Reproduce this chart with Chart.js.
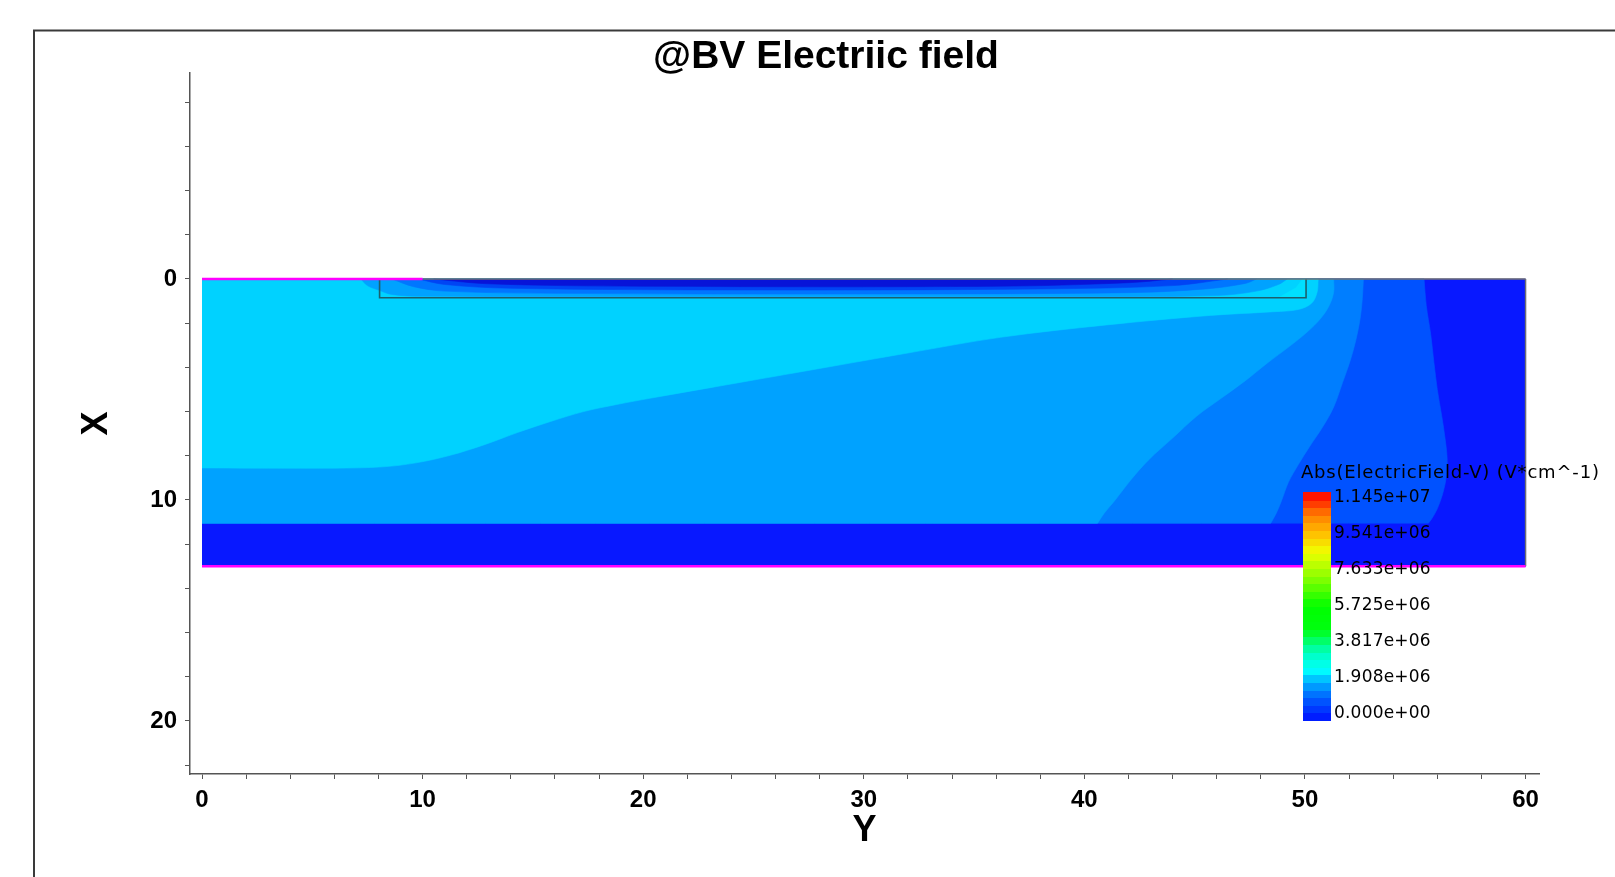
<!DOCTYPE html>
<html>
<head>
<meta charset="utf-8">
<script src="https://cdn.jsdelivr.net/npm/chart.js@4.4.1/dist/chart.umd.min.js"></script>
<style>
html,body{margin:0;padding:0;background:#fff;}
canvas{display:block;}
</style>
</head>
<body>
<canvas id="c" width="1615" height="877"></canvas>
<script>
// ---------------- data ----------------
const chartTitle = '@BV Electriic field';
const horizontalAxisTitle = 'Y';
const verticalAxisTitle = 'X';
const xTickValues = [0,2,4,6,8,10,12,14,16,18,20,22,24,26,28,30,32,34,36,38,40,42,44,46,48,50,52,54,56,58,60];
const xTickLabels = [0,10,20,30,40,50,60];
const yTickValues = [-8,-6,-4,-2,0,2,4,6,8,10,12,14,16,18,20,22];
const yTickLabels = [0,10,20];

const legendTitle = 'Abs(ElectricField-V) (V*cm^-1)';
const legendLabels = ['1.145e+07','9.541e+06','7.633e+06','5.725e+06','3.817e+06','1.908e+06','0.000e+00'];
const legendStopPos = [0, 0.10, 0.17, 0.22, 0.30, 0.40, 0.50, 0.62, 0.74, 0.82, 0.90, 0.96, 1];
const legendStopColor = ['#0010ff','#0060ff','#00b0ff','#00ffff','#00ffc0','#00ff10','#00ff00','#80ff00','#f0ff00','#ffc000','#ff8000','#ff3000','#ff0000'];
const legendBands = 30;

// device (Y along horizontal, X depth along vertical, microns)
const deviceBox = [[0,0],[60,0],[60,13],[0,13]];
const bandTop = 11.05;
// contour boundaries (top -> bottom)
const contourC = [[55.4,0],[55.5,1.2],[55.7,2.5],[55.85,3.8],[56.0,5.0],[56.2,6.2],[56.35,7.2],[56.45,8.2],[56.4,9.0],[56.25,9.7],[56.0,10.4],[55.75,10.85],[55.6,11.05]];
const contourB = [[52.65,0],[52.6,0.9],[52.5,1.8],[52.3,2.8],[52.05,3.7],[51.7,4.7],[51.3,5.8],[50.8,6.7],[50.2,7.6],[49.7,8.4],[49.25,9.2],[48.95,10.0],[48.7,10.6],[48.45,11.05]];
const contourA = [[51.3,0],[51.3,0.6],[51.1,1.2],[50.7,1.8],[50.1,2.4],[49.3,3.05],[48.3,3.8],[47.3,4.6],[46.2,5.4],[45.1,6.2],[44.0,7.2],[42.9,8.2],[42.1,9.1],[41.4,10.0],[40.9,10.6],[40.6,11.05]];
const contourCyan = [[50.6,0],[50.55,0.6],[50.3,1.1],[49.7,1.38],[48.6,1.48],[45.7,1.65],[41,2.08],[36.2,2.64],[32,3.35],[28,4.05],[24,4.75],[20.3,5.4],[18.8,5.68],[17.3,6.0],[15.8,6.45],[14.3,6.95],[12.8,7.5],[11.25,7.98],[9.7,8.32],[8.2,8.5],[6,8.56],[0,8.55]];
// thin surface layer bands
const layerBand1 = [[7.2,0],[7.5,0.3],[8.0,0.5],[8.6,0.7],[10,0.78],[20,0.8],[40,0.8],[46,0.75],[47.8,0.55],[48.8,0.25],[49.2,0]];
const layerBand2 = [[8.6,0],[9.6,0.35],[11,0.55],[16,0.65],[30,0.68],[42,0.62],[45.5,0.45],[47.3,0.2],[47.8,0]];
const layerBand3 = [[9.8,0],[11,0.25],[14,0.42],[25,0.5],[38,0.45],[44,0.3],[46.5,0]];
const layerBand4 = [[10.5,0],[13,0.22],[20,0.33],[36,0.33],[42,0.17],[44,0]];
const layerEnd = [[48.8,0.85],[49.6,0.4],[49.9,0],[50.05,0],[50.05,0.85]];
// outlines
const layerBox = [[8.05,0],[8.05,0.85],[50.05,0.85],[50.05,0]];
const topContact = [[0,0],[10,0]];
const bottomContact = [[0,13],[60,13]];
const topSurface = [[10,0],[60,0]];
const rightSurface = [[60,0],[60,13]];

const regionColors = {
  deep: '#0818ff', r4: '#0052ff', r3: '#007eff', r2: '#00a2ff', r1: '#00d2ff',
  l1: '#00a2ff', l2: '#0076ff', l3: '#0044f4', l4: '#0814d8', lEnd: '#00e0ff'
};

// ---------------- build ----------------
const toPts = arr => arr.map(([x, y]) => ({x, y}));
// a read corner is listed twice so the smoothed outline keeps it sharp
const corner = p => [p, p];
function withCorners(curve, startCorner, endCorner) {
  const first = curve[0], last = curve[curve.length - 1];
  return [...corner(startCorner), ...corner(first), ...curve.slice(1, -1), ...corner(last), ...(endCorner ? corner(endCorner) : [])];
}
function region(points, color, tension) {
  return {data: toPts(points), showLine: true, fill: 'shape', backgroundColor: color,
          borderColor: color, borderWidth: 0.6, pointRadius: 0, tension: tension};
}
function outline(points, color, w) {
  return {data: toPts(points), showLine: true, fill: false, borderColor: color,
          borderWidth: w, pointRadius: 0, tension: 0};
}
const T = 0.35;
const backToFront = [
  region(deviceBox, regionColors.deep, 0),
  region(withCorners(contourC, [0,0], [0,bandTop]), regionColors.r4, T),
  region(withCorners(contourB, [0,0], [0,bandTop]), regionColors.r3, T),
  region(withCorners(contourA, [0,0], [0,bandTop]), regionColors.r2, T),
  region(withCorners(contourCyan, [0,0], null), regionColors.r1, T),
  region(layerBand1, regionColors.l1, T),
  region(layerBand2, regionColors.l2, T),
  region(layerBand3, regionColors.l3, T),
  region(layerBand4, regionColors.l4, T),
  region(layerEnd, regionColors.lEnd, 0),
  outline(layerBox, '#1d5f6c', 1.6),
  outline(topSurface, '#707070', 1.6),
  outline(rightSurface, '#707070', 1.4),
  outline(topContact, '#ff00ff', 2.5),
  outline(bottomContact, '#ff00ff', 2.5)
];
backToFront.forEach((d, i) => { d.order = backToFront.length - i; });

function lerpColor(a, b, t) {
  const pa = [1,3,5].map(i => parseInt(a.substr(i,2),16));
  const pb = [1,3,5].map(i => parseInt(b.substr(i,2),16));
  const c = pa.map((v, k) => Math.round(v + (pb[k]-v)*t));
  return 'rgb(' + c.join(',') + ')';
}
function colorAt(f) {
  for (let i = 0; i < legendStopPos.length - 1; i++) {
    if (f <= legendStopPos[i+1]) {
      const t = (f - legendStopPos[i]) / (legendStopPos[i+1] - legendStopPos[i]);
      return lerpColor(legendStopColor[i], legendStopColor[i+1], t);
    }
  }
  return legendStopColor[legendStopColor.length-1];
}

const decorPlugin = {
  id: 'decor',
  beforeDraw(chart) {
    const ctx = chart.ctx;
    ctx.save();
    ctx.fillStyle = '#ffffff';
    ctx.fillRect(0, 0, chart.width, chart.height);
    ctx.strokeStyle = '#3a3a3a';
    ctx.lineWidth = 2;
    ctx.beginPath();
    ctx.moveTo(chart.width, 30.5);
    ctx.lineTo(34, 30.5);
    ctx.lineTo(34, chart.height);
    ctx.stroke();
    ctx.fillStyle = '#000';
    ctx.font = "bold 39px 'Liberation Sans', Arial, sans-serif";
    ctx.textAlign = 'center';
    ctx.textBaseline = 'middle';
    ctx.fillText(chartTitle, 826, 57);
    ctx.restore();
  },
  afterDraw(chart) {
    const ctx = chart.ctx;
    const bx = 1303, bw = 28, top = 492, bottom = 720;
    ctx.save();
    const h = (bottom - top) / legendBands;
    for (let i = 0; i < legendBands; i++) {
      ctx.fillStyle = colorAt((i + 0.5) / legendBands);
      const y0 = bottom - (i + 1) * h;
      ctx.fillRect(bx, Math.floor(y0), bw, Math.ceil(h) + 1);
    }
    ctx.fillStyle = '#000';
    ctx.textBaseline = 'middle';
    ctx.textAlign = 'left';
    ctx.font = "18px 'DejaVu Sans', sans-serif";
    try { ctx.letterSpacing = '0.8px'; } catch (e) {}
    ctx.fillText(legendTitle, 1301, 473);
    try { ctx.letterSpacing = '0.2px'; } catch (e) {}
    ctx.font = "17px 'DejaVu Sans', sans-serif";
    legendLabels.forEach((t, i) => ctx.fillText(t, 1334, 497.5 + i * 36.05));
    ctx.restore();
  }
};

const tickFont = {family: "'Liberation Sans', Arial, sans-serif", size: 24, weight: 'bold', lineHeight: 1};
const axisTitleFont = {family: "'Liberation Sans', Arial, sans-serif", size: 36, weight: 'bold', lineHeight: 1};

new Chart(document.getElementById('c'), {
  type: 'scatter',
  data: {datasets: backToFront},
  plugins: [decorPlugin],
  options: {
    responsive: false,
    animation: false,
    devicePixelRatio: 1,
    layout: {padding: {left: 0, right: 76, top: 73, bottom: 0}},
    plugins: {legend: {display: false}, tooltip: {enabled: false}, title: {display: false}},
    scales: {
      x: {
        type: 'linear', position: 'bottom', min: -0.544, max: 60.61,
        afterBuildTicks: s => { s.ticks = xTickValues.map(v => ({value: v})); },
        afterFit: s => { s.height = 103; },
        ticks: {autoSkip: false, maxRotation: 0, minRotation: 0, padding: 9, color: '#000', font: tickFont,
                callback: v => xTickLabels.includes(v) ? String(v) : ''},
        grid: {drawOnChartArea: false, drawTicks: true, tickLength: 5, tickColor: '#555', tickWidth: 1},
        border: {display: true, color: '#555', width: 1.5},
        title: {display: true, text: horizontalAxisTitle, color: '#000', font: axisTitleFont, padding: {top: 0, bottom: 28}}
      },
      y: {
        type: 'linear', position: 'left', reverse: true, min: -9.32, max: 22.4,
        afterBuildTicks: s => { s.ticks = yTickValues.map(v => ({value: v})); },
        afterFit: s => { s.width = 190; },
        ticks: {autoSkip: false, padding: 8, color: '#000', font: tickFont,
                callback: v => yTickLabels.includes(v) ? String(v) : ''},
        grid: {drawOnChartArea: false, drawTicks: true, tickLength: 5, tickColor: '#555', tickWidth: 1},
        border: {display: true, color: '#555', width: 1.5},
        title: {display: true, text: verticalAxisTitle, color: '#000', font: axisTitleFont, padding: {top: 79, bottom: 0}}
      }
    }
  }
});
</script>
</body>
</html>
